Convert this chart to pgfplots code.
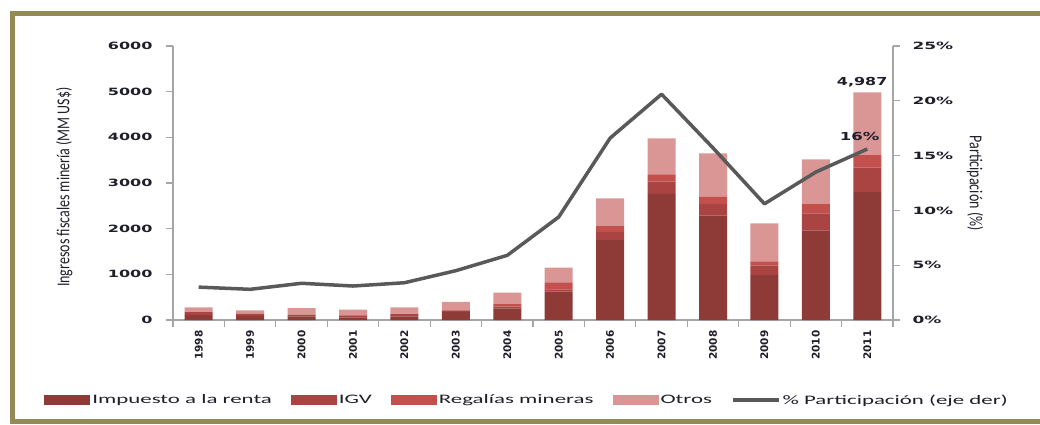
\documentclass[border=0pt]{standalone}
\usepackage{fontspec}
\setmainfont{Carlito}
\newfontfamily\tickfont{DejaVu Sans}
\usepackage{graphicx}
\usepackage{pgfplots}
\usepackage{pgfplotstable}
\pgfplotsset{compat=1.18}

\definecolor{renta}{HTML}{8E3A37}
\definecolor{igv}{HTML}{A94442}
\definecolor{regalias}{HTML}{C4504D}
\definecolor{otros}{HTML}{D99694}
\definecolor{participa}{HTML}{595959}
\definecolor{marco}{HTML}{948A54}
\definecolor{ejes}{HTML}{A6A6A6}
\definecolor{texto}{HTML}{1F1F2A}

% the reference is stretched sideways, so the texts are too
\newcommand\sx[2][1.6]{\scalebox{#1}[1]{#2}}
\newcommand\sy[2][1.3]{\scalebox{1}[#1]{#2}}

\pgfplotsset{
  barlegend/.style={legend image code/.code={\fill[##1] (0pt,-5pt) rectangle (46pt,5pt);}},
  linelegend/.style={legend image code/.code={\draw[##1] (0pt,0pt) -- (46pt,0pt);}},
}

\pgfplotstableread{
anio renta igv regalias otros pct
1998 110 65 0 100 3.0
1999 90 50 0 70 2.8
2000 80 40 0 140 3.35
2001 60 40 0 125 3.1
2002 80 50 0 145 3.4
2003 180 30 0 185 4.5
2004 256 36 58 250 5.9
2005 620 52 153 321 9.4
2006 1750 180 125 610 16.6
2007 2760 270 160 790 20.6
2008 2285 255 155 955 15.7
2009 985 205 95 830 10.6
2010 1965 370 205 980 13.5
2011 2800 535 285 1367 15.6
}\datos

\begin{document}
\begin{tikzpicture}
\useasboundingbox (0,0) rectangle (1040pt,424pt);
\draw[marco, line width=5pt] (1080pt,410.5pt) -- (12.5pt,410.5pt) -- (12.5pt,2.5pt) -- (1080pt,2.5pt);

\begin{axis}[
  at={(173pt,104pt)}, anchor=south west, scale only axis,
  width=720pt, height=274pt,
  ybar stacked, bar width=28pt,
  xmin=1997.5, xmax=2011.5, ymin=0, ymax=6000,
  axis x line*=bottom, axis y line*=left,
  axis line style={ejes, line width=1.5pt},
  tick align=outside, major tick length=7pt, minor tick length=7pt,
  tick style={ejes, line width=1.2pt},
  major x tick style={draw=none},
  xtick={1998,...,2011},
  minor xtick={1997.5,1998.5,...,2011.5},
  xticklabels={1998,1999,2000,2001,2002,2003,2004,2005,2006,2007,2008,2009,2010,2011},
  xticklabel style={rotate=90, anchor=east, font=\tickfont\bfseries\fontsize{10.5}{12}\selectfont, text=texto},
  ytick={0,1000,...,6000},
  yticklabels={\sx{0},\sx{1000},\sx{2000},\sx{3000},\sx{4000},\sx{5000},\sx{6000}},
  yticklabel style={font=\tickfont\bfseries\fontsize{10}{12}\selectfont, text=texto, xshift=-10pt},
  ylabel={\sy{Ingresos fiscales minería (MM US\$)}},
  every axis y label/.style={at={(axis description cs:-0.151,0.485)}, rotate=90, anchor=center, font=\fontsize{14}{16}\selectfont, text=texto},
  legend columns=-1, legend cell align=left,
  legend style={at={(axis description cs:-0.179,-0.292)}, anchor=west,
    draw=none, fill=none, inner sep=0pt,
    font=\fontsize{13}{15}\selectfont, text=texto,
    nodes={inner sep=2pt},
    /tikz/every even column/.append style={column sep=17pt}},
]
\addplot[barlegend, fill=renta, draw=none] table[x=anio, y=renta]{\datos};
\addplot[barlegend, fill=igv, draw=none] table[x=anio, y=igv]{\datos};
\addplot[barlegend, fill=regalias, draw=none] table[x=anio, y=regalias]{\datos};
\addplot[barlegend, fill=otros, draw=none] table[x=anio, y=otros]{\datos};
\addlegendentry{\sx[1.76]{Impuesto a la renta}}
\addlegendentry{\sx[1.76]{IGV}}
\addlegendentry{\sx[1.76]{Regalías mineras}}
\addlegendentry{\sx[1.76]{Otros}}
\addlegendimage{linelegend, participa, line width=3.5pt}
\addlegendentry{\sx[1.76]{\% Participación (eje der)}}
\node[font=\tickfont\bfseries\fontsize{11}{13}\selectfont, text=texto] at (axis cs:2010.9,5200) {\sx[1.45]{4,987}};
\end{axis}

\begin{axis}[
  at={(173pt,104pt)}, anchor=south west, scale only axis,
  width=720pt, height=274pt,
  xmin=1997.5, xmax=2011.5, ymin=0, ymax=25,
  axis x line=none, axis y line*=right,
  axis line style={ejes, line width=1.5pt},
  tick align=outside, major tick length=7pt,
  tick style={ejes, line width=1.2pt},
  ytick={0,5,...,25},
  yticklabels={\sx[1.7]{0\%},\sx[1.7]{5\%},\sx[1.7]{10\%},\sx[1.7]{15\%},\sx[1.7]{20\%},\sx[1.7]{25\%}},
  yticklabel style={font=\tickfont\bfseries\fontsize{10}{12}\selectfont, text=texto, xshift=9pt},
  ylabel={\sy{Participación (\%)}},
  every axis y label/.style={at={(axis description cs:1.114,0.5)}, rotate=-90, anchor=center, font=\fontsize{14}{16}\selectfont, text=texto},
]
\addplot[participa, line width=3.5pt, line join=round, mark=none] table[x=anio, y=pct]{\datos};
\node[font=\tickfont\bfseries\fontsize{11}{13}\selectfont, text=texto] at (axis cs:2010.85,16.7) {\sx[1.5]{16\%}};
\end{axis}
\end{tikzpicture}
\end{document}
